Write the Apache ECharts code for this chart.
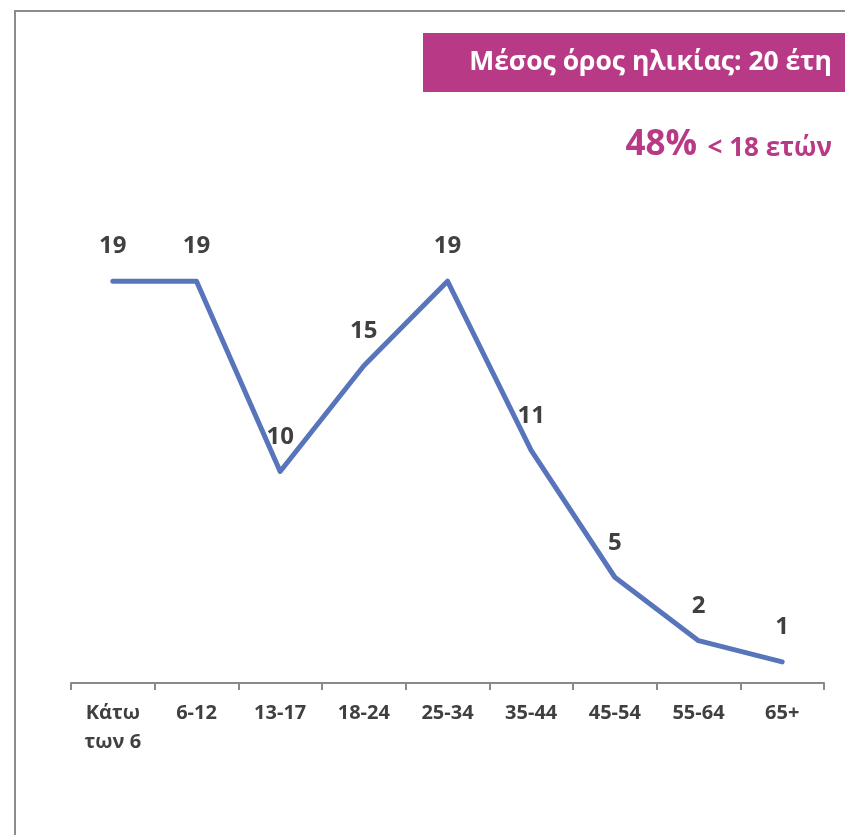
<!DOCTYPE html>
<html>
<head>
<meta charset="utf-8">
<script src="https://cdn.jsdelivr.net/npm/echarts@6/dist/echarts.min.js"></script>
<style>
html,body{margin:0;padding:0;background:#fff;}
#chart{width:845px;height:835px;}
</style>
</head>
<body>
<div id="chart"></div>
<script>
const categories = ['Κάτω\nτων 6', '6-12', '13-17', '18-24', '25-34', '35-44', '45-54', '55-64', '65+'];
const values = [19, 19, 10, 15, 19, 11, 5, 2, 1];
const bannerText = 'Μέσος όρος ηλικίας: 20 έτη';
const shareText = '48%';
const shareSubText = '< 18 ετών';

const FONT = '"Open Sans", "Noto Sans", sans-serif';
const MAGENTA = '#b83a86';
const TEXT = '#404040';

const chart = echarts.init(document.getElementById('chart'), null, {renderer: 'canvas'});
chart.setOption({
  animation: false,
  backgroundColor: '#ffffff',
  grid: {left: 71, right: 21, top: 260, bottom: 152, containLabel: false},
  xAxis: {
    type: 'category',
    data: categories,
    boundaryGap: true,
    axisLine: {show: true, lineStyle: {color: '#898989', width: 2}},
    axisTick: {show: true, length: 7, alignWithLabel: false, lineStyle: {color: '#898989', width: 2}},
    axisLabel: {
      color: TEXT, fontFamily: FONT, fontWeight: 'bold', fontSize: 20,
      lineHeight: 29, margin: 16, interval: 0
    },
    splitLine: {show: false}
  },
  yAxis: {
    type: 'value', min: 0, max: 20,
    show: false,
    splitLine: {show: false}
  },
  series: [{
    type: 'line',
    data: values,
    symbol: 'circle',
    symbolSize: 1,
    itemStyle: {color: '#5874bb'},
    lineStyle: {color: '#5874bb', width: 5, cap: 'round', join: 'round'},
    label: {
      show: true, position: 'top', distance: 22,
      color: TEXT, fontFamily: FONT, fontWeight: 'bold', fontSize: 24
    },
    emphasis: {disabled: true}
  }],
  graphic: [
    {type: 'line', shape: {x1: 15, y1: 11, x2: 845, y2: 11}, style: {stroke: '#8c8c8c', lineWidth: 2}},
    {type: 'line', shape: {x1: 15, y1: 10, x2: 15, y2: 835}, style: {stroke: '#8c8c8c', lineWidth: 2}},
    {type: 'rect', shape: {x: 423, y: 33, width: 422, height: 59}, style: {fill: MAGENTA}},
    {type: 'text', style: {text: bannerText, x: 832, y: 62, align: 'right', verticalAlign: 'middle',
      fill: '#ffffff', font: 'bold 26.5px ' + FONT}},
    {type: 'text', style: {text: shareSubText, x: 832, y: 149, align: 'right', verticalAlign: 'middle',
      fill: MAGENTA, font: 'bold 26px ' + FONT}},
    {type: 'text', style: {text: shareText, x: 697, y: 145, align: 'right', verticalAlign: 'middle',
      fill: MAGENTA, font: 'bold 35px ' + FONT}}
  ]
});
</script>
</body>
</html>
